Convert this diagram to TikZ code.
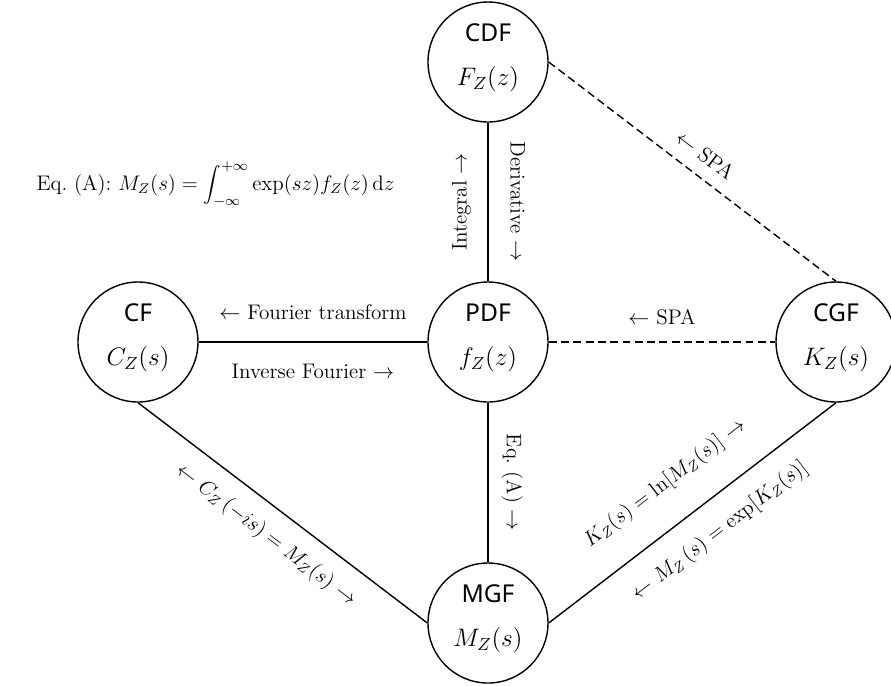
\documentclass[tikz,border=0pt]{standalone}
\usepackage{fontspec}
\setsansfont{Noto Sans}
\usepackage{tikz}
\usetikzlibrary{calc}

\newcommand{\fnlabel}[2]{\textsf{#1}\\$#2$\rule[-8pt]{0pt}{8pt}}

\begin{document}
\begin{tikzpicture} [line width=0.8pt,
  fn/.style={circle, draw, minimum size=2.4cm, inner sep=0pt, align=center, font=\fontsize{14}{25}\selectfont},
  lbl/.style={font=\fontsize{12}{14}\selectfont},
  spa/.style={dash pattern=on 4.5pt off 2.5pt}]
\useasboundingbox (-9.76,-6.86) rectangle (8.06,6.84);

\node[fn] (PDF) at (0,0) {\fnlabel{PDF}{f_Z(z)}};
\node[fn] (CDF) at (0,5.6) {\fnlabel{CDF}{F_Z(z)}};
\node[fn] (CF) at (-7,0) {\fnlabel{CF}{C_Z(s)}};
\node[fn] (CGF) at (6.96,0) {\fnlabel{CGF}{K_Z(s)}};
\node[fn] (MGF) at (0,-5.62) {\fnlabel{MGF}{M_Z(s)}};

\node[lbl, anchor=base west] (eqA) at (-9.16,3.04)
  {Eq.\ (A):\ $\displaystyle M_Z(s)=\int_{-\infty}^{+\infty}\exp(sz)f_Z(z)\,\mathrm{d}z$};

\draw (CF) -- (PDF)
  node[lbl, midway, above=9pt] {$\leftarrow$ Fourier transform}
  node[lbl, midway, below=9pt] {Inverse Fourier $\rightarrow$};
\draw[spa] (PDF) -- (CGF) node[lbl, midway, above=6pt] {$\leftarrow$ SPA};

% vertical links, labels
\draw (PDF) -- (CDF) node[lbl, midway, sloped, above=6pt] {Integral $\rightarrow$};
\path (CDF) -- (PDF) node[lbl, midway, sloped, above=9pt] {Derivative $\rightarrow$};
\draw (PDF) -- (MGF) node[lbl, midway, sloped, above=4pt] {Eq.\ (A) $\rightarrow$};

% diagonals
\draw (CF.south) -- (MGF.west)
  node[lbl, midway, sloped, below=6pt] {$\leftarrow$ $C_Z\,(-is)=M_Z(s)$ $\rightarrow$};
\draw (MGF.east) -- (CGF.south)
  node[lbl, pos=0.49, sloped, above=13pt] {$K_Z(s)=\ln[M_Z(s)]$ $\rightarrow$}
  node[lbl, pos=0.53, sloped, below=8pt] {$\leftarrow$ $M_Z\,(s)=\exp[K_Z(s)]$};
\draw[spa] (CDF.east) -- (CGF.north) node[lbl, midway, sloped, above=4pt] {$\leftarrow$ SPA};

\end{tikzpicture}
\end{document}
